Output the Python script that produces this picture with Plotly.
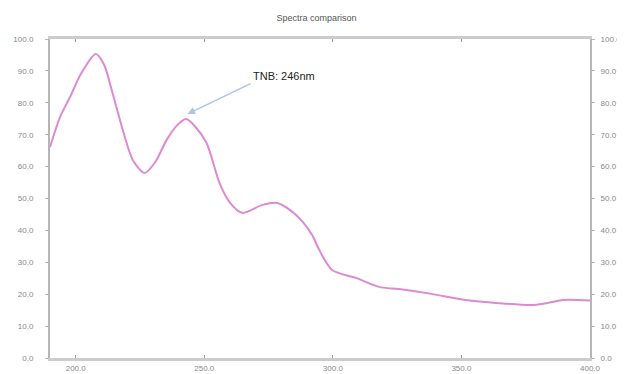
import plotly.graph_objects as go

wavelength = [190.0, 193.9, 197.8, 202.0, 207.8, 211.0, 214.0, 218.3, 222.2, 226.8, 231.0, 235.3, 239.5,
              243.0, 246.5, 250.9, 255.9, 259.8, 264.8, 272.6, 278.4, 285.7, 291.9, 294.7, 299.7,
              309.0, 317.9, 325.7, 338.4, 351.6, 364.4, 377.2, 381.9, 389.6, 400.0]
absorbance = [66.1, 75.5, 81.8, 89.0, 95.3, 92.0, 84.0, 71.5, 62.1, 58.0, 61.5, 68.3, 73.0,
              74.9, 72.5, 67.4, 54.9, 48.9, 45.5, 48.0, 48.6, 44.8, 38.6, 33.9, 27.6,
              25.1, 22.3, 21.6, 20.1, 18.2, 17.2, 16.6, 17.0, 18.2, 18.0]

y_ticks = [0, 10, 20, 30, 40, 50, 60, 70, 80, 90, 100]
x_ticks = [200, 250, 300, 350, 400]
title_text = "Spectra comparison"
annot_text = "TNB: 246nm"
annot_x, annot_y = 243.5, 76.5
annot_tail_x, annot_tail_y = 268.0, 86.0

fig = go.Figure()
fig.add_trace(go.Scatter(x=wavelength, y=absorbance, mode="lines",
                         line=dict(color="#dc8ad3", width=2, shape="spline", smoothing=0.8),
                         showlegend=False, hoverinfo="skip"))
fig.add_trace(go.Scatter(x=[wavelength[0]], y=[absorbance[0]], yaxis="y2", mode="lines",
                         line=dict(width=0), showlegend=False, hoverinfo="skip"))

fig.add_annotation(x=annot_x, y=annot_y, ax=annot_tail_x, ay=annot_tail_y, axref="x", ayref="y",
                   text=annot_text, showarrow=True, arrowhead=2, arrowsize=1, arrowwidth=1.5,
                   arrowcolor="#a9c6e8", xanchor="left", yanchor="bottom",
                   font=dict(family="Liberation Sans, Arial", size=11, color="#222222"))

axis_font = dict(family="Liberation Sans, Arial", size=8, color="#888888")
fig.update_layout(
    width=617, height=366,
    margin=dict(l=42, r=35, t=31, b=16),
    paper_bgcolor="white", plot_bgcolor="white",
    title=dict(text=title_text, x=0.5, y=0.972, xanchor="center", yanchor="middle",
               font=dict(family="Liberation Sans, Arial", size=9, color="#555555")),
    xaxis=dict(range=[190, 400], tickvals=x_ticks, ticktext=[f"{v:.1f}" for v in x_ticks],
               showgrid=False, zeroline=False, showline=True, linecolor="#cccccc", linewidth=3,
               mirror="ticks", ticks="inside", ticklen=3, tickcolor="#999999", tickfont=axis_font,
               automargin=False),
    yaxis=dict(range=[0, 100], tickvals=y_ticks, ticktext=[f"{v:.1f}" for v in y_ticks],
               showgrid=False, zeroline=False, showline=True, linecolor="#b5b5b5", linewidth=2,
               ticks="outside", ticklen=3, tickcolor="#bbbbbb", tickfont=axis_font,
               ticklabelstandoff=10, automargin=False),
    yaxis2=dict(range=[0, 100], tickvals=y_ticks, ticktext=[f"{v:.1f}" for v in y_ticks],
                overlaying="y", side="right", showgrid=False, zeroline=False, showline=True,
                linecolor="#b5b5b5", linewidth=2, ticks="outside", ticklen=3,
                tickcolor="#bbbbbb", tickfont=axis_font, ticklabelstandoff=4, automargin=False),
)
fig.write_html("out.html")
